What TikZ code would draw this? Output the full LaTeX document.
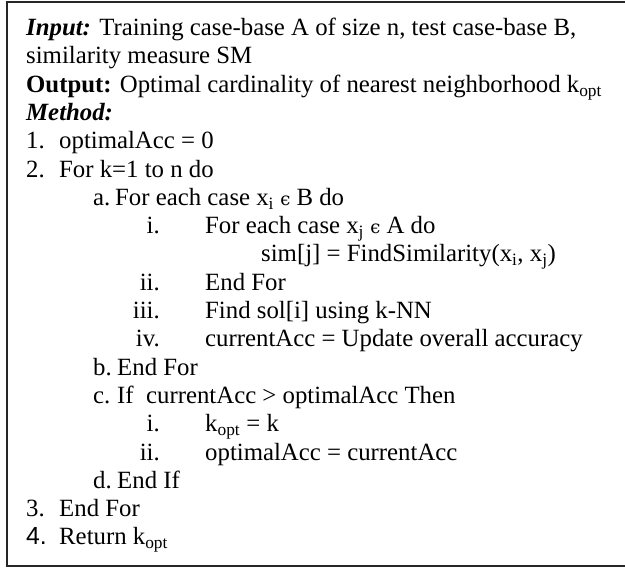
\documentclass[tikz,border=0pt]{standalone}
\usepackage{fontspec}
\setmainfont{Liberation Serif}
\newfontfamily\arialf{Liberation Sans}
\newfontfamily\dvsf{DejaVu Serif}
\newcommand{\elem}{{\dvsf\fontsize{18}{20}\selectfont ϵ}}
\begin{document}
\begin{tikzpicture}[x=1pt,y=-1pt,
  txt/.style={anchor=base west,inner sep=0pt,font=\fontsize{24.8}{28}\selectfont},
  lab/.style={anchor=base east,inner sep=0pt,font=\fontsize{24.8}{28}\selectfont},
  frame/.style={draw=black!85,line width=1.6pt}]
\useasboundingbox (0,0) rectangle (625,569);
\draw[frame] (7,2) rectangle (660,566);
\def\b#1{\the\numexpr 36+#1*283/10\relax}
\node[txt] (l0) at (26,\b0) {\textbf{\textit{Input:}} Training case-base A of size n, test case-base B,};
\node[txt] (l1) at (26,\b1) {similarity measure SM};
\node[txt] (l2) at (26,\b2) {\textbf{Output:} Optimal cardinality of nearest neighborhood k\textsubscript{opt}};
\node[txt] (l3) at (26,\b3) {\textbf{\textit{Method:}}};
\node[txt] (n1) at (26,\b4) {1.};
\node[txt] (t1) at (59,\b4) {optimalAcc = 0};
\node[txt] (n2) at (26,\b5) {2.};
\node[txt] (t2) at (59,\b5) {For k=1 to n do};
\node[txt] (na) at (93,\b6) {a.};
\node[txt] (ta) at (115,\b6) {For each case x\textsubscript{i} \elem{} B do};
\node[lab] (ai) at (160,\b7) {i.};
\node[txt] (tai) at (205,\b7) {For each case x\textsubscript{j} \elem{} A do};
\node[txt] (tsim) at (261,\b8) {sim[j] = FindSimilarity(x\textsubscript{i}, x\textsubscript{j})};
\node[lab] (aii) at (160,\b9) {ii.};
\node[txt] (taii) at (205,\b9) {End For};
\node[lab] (aiii) at (160,\b{10}) {iii.};
\node[txt] (taiii) at (205,\b{10}) {Find sol[i] using k-NN};
\node[lab] (aiv) at (160,\b{11}) {iv.};
\node[txt] (taiv) at (205,\b{11}) {currentAcc = Update overall accuracy};
\node[txt] (nb) at (93,\b{12}) {b.};
\node[txt] (tb) at (117,\b{12}) {End For};
\node[txt] (nc) at (93,\b{13}) {c.};
\node[txt] (tc) at (117,\b{13}) {If\ \ currentAcc > optimalAcc Then};
\node[lab] (ci) at (160,\b{14}) {i.};
\node[txt] (tci) at (205,\b{14}) {k\textsubscript{opt} = k};
\node[lab] (cii) at (160,\b{15}) {ii.};
\node[txt] (tcii) at (205,\b{15}) {optimalAcc = currentAcc};
\node[txt] (nd) at (93,\b{16}) {d.};
\node[txt] (td) at (117,\b{16}) {End If};
\node[txt] (n3) at (26,\b{17}) {3.};
\node[txt] (t3) at (59,\b{17}) {End For};
\node[txt] (n4) at (26,\b{18}) {\arialf 4.};
\node[txt] (t4) at (59,\b{18}) {Return k\textsubscript{opt}};
\end{tikzpicture}
\end{document}
